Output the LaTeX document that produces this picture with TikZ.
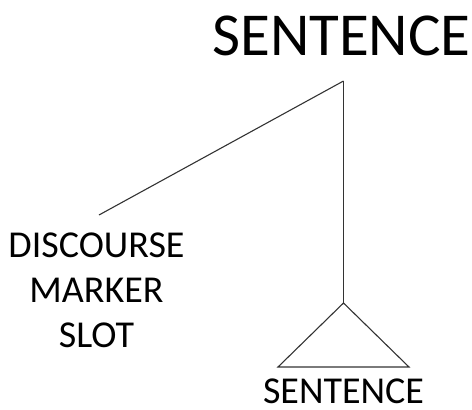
\documentclass[tikz,border=0pt]{standalone}
\usepackage{fontspec}
\setmainfont{Carlito}
\begin{document}
\begin{tikzpicture}[x=1pt,y=-1pt,
  lbl/.style={inner sep=0pt,anchor=base,text=black},
  big/.style={lbl,font=\fontsize{61}{61}\selectfont},
  mid/.style={lbl,font=\fontsize{38}{45}\selectfont},
  branch/.style={draw=black!80,line width=1.1pt}]
\useasboundingbox (0,0) rectangle (472,410);
\node[big] (top) at (341.5,55) {SENTENCE};
\node[mid] (d1) at (96.5,257) {DISCOURSE};
\node[mid] (d2) at (96.5,302) {MARKER};
\node[mid] (d3) at (96.5,347) {SLOT};
\node[mid,text depth=0pt] (bot) at (343.5,403.5) {SENTENCE};
\coordinate (apex) at (343.5,81);
\coordinate (dm) at (99,215);
\coordinate (ta) at (343.5,303);
\coordinate (tl) at (278,367);
\coordinate (tr) at (409,367);
\draw[branch] (apex) -- (dm);
\draw[branch] (apex) -- (ta);
\draw[branch,line join=miter] (ta) -- (tl) -- (tr) -- cycle;
\end{tikzpicture}
\end{document}
